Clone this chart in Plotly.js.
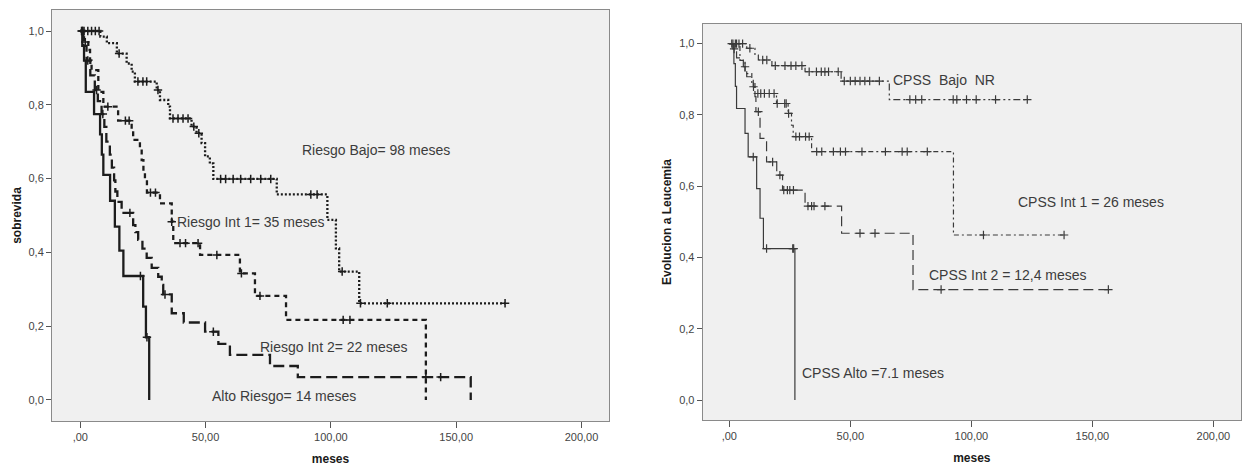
<!DOCTYPE html>
<html>
<head>
<meta charset="utf-8">
<script src="https://cdn.plot.ly/plotly-3.0.1.min.js"></script>
<style>
  html, body { margin: 0; padding: 0; background: #ffffff; }
  #chart { width: 1243px; height: 467px; }
</style>
</head>
<body>
<div id="chart"></div>
<script>
// Axis ticks (Spanish decimal comma)
const xTickVals = [0, 50, 100, 150, 200];
const xTickText = [',00', '50,00', '100,00', '150,00', '200,00'];
const yTickVals = [0, 0.2, 0.4, 0.6, 0.8, 1.0];
const yTickText = ['0,0', '0,2', '0,4', '0,6', '0,8', '1,0'];

// ---- Overall survival by risk group (months / survival) ----
const bajoT = [0, 8, 10.6, 14.6, 18.5, 20.5, 21.8, 30.5, 31.8, 35.1, 35.8, 44.4, 46.4, 48.4, 49.8, 51.7, 53.1, 78.4, 98.6, 102.0, 103.3, 111.3];
const bajoS = [1, 0.985, 0.967, 0.939, 0.912, 0.89, 0.863, 0.84, 0.813, 0.795, 0.763, 0.741, 0.723, 0.696, 0.66, 0.641, 0.599, 0.557, 0.488, 0.411, 0.348, 0.262];
const bajoCens = [1.5, 3, 4.5, 6, 7.5, 15.5, 23, 25, 26.5, 31, 37, 39, 41, 43, 45.3, 47.3, 56, 58, 61, 64, 68, 72, 76, 92, 94.5, 104.5, 111.8, 122.5, 169.5];

const int1T = [0, 1.5, 3.2, 3.9, 4.5, 7.2, 9.2, 15.1, 20.5, 21.1, 23.8, 24.5, 25.2, 25.8, 26.6, 31.8, 36.5, 37.1, 47.8, 63.7, 69.7, 82.1, 137.9];
const int1S = [1, 0.97, 0.949, 0.92, 0.894, 0.835, 0.795, 0.757, 0.73, 0.705, 0.68, 0.65, 0.62, 0.596, 0.562, 0.533, 0.483, 0.425, 0.393, 0.343, 0.282, 0.217, 0];
const int1Cens = [1, 2, 11, 18, 19.5, 28, 30, 36.5, 39.8, 42, 47, 54.5, 64.3, 71.7, 104.9, 107.6];

const int2T = [0, 1.2, 2.5, 4.0, 5.8, 7.0, 8.5, 9.6, 10.4, 11.8, 12.6, 13.5, 14.0, 14.8, 16.5, 21.1, 22.0, 23.1, 24.8, 26.5, 28.5, 31.1, 32.5, 33.1, 36.5, 41.3, 49.8, 55.1, 59.7, 75.7, 86.8, 155.8];
const int2S = [1, 0.96, 0.92, 0.88, 0.84, 0.81, 0.775, 0.74, 0.70, 0.665, 0.63, 0.595, 0.565, 0.537, 0.507, 0.474, 0.455, 0.434, 0.41, 0.385, 0.358, 0.334, 0.312, 0.286, 0.235, 0.21, 0.185, 0.152, 0.122, 0.092, 0.062, 0];
const int2Cens = [0.8, 3, 6.5, 9, 19.8, 33.8, 53.1, 137.9, 143.8];

const altoT = [0, 0.8, 1.5, 2.2, 5.5, 7.9, 8.6, 9.2, 11.9, 13.8, 15.6, 17.2, 25.1, 26.2, 27.5];
const altoS = [1, 0.96, 0.92, 0.835, 0.775, 0.72, 0.665, 0.61, 0.54, 0.47, 0.405, 0.336, 0.253, 0.17, 0];
const altoCens = [0.5, 24, 26.6];

// ---- Progression to leukemia by CPSS group ----
const cBajoT = [0, 7.2, 10.6, 12.0, 17.6, 31.3, 46.2, 66.1];
const cBajoS = [1, 0.987, 0.968, 0.954, 0.938, 0.921, 0.895, 0.843];
const cBajoCens = [1, 2.5, 4, 5.5, 8.5, 13.8, 15.5, 19, 23, 25.5, 27.5, 30, 33, 36, 38, 39.5, 41, 45, 47.5, 50, 52, 54, 56, 58, 62, 74.6, 77, 79.5, 92.5, 94, 98, 102, 110, 123.1];

const cInt1T = [0, 4.4, 6.5, 9.3, 10.6, 19.5, 24.3, 25.7, 26.4, 34.0, 92.6];
const cInt1S = [1, 0.953, 0.916, 0.888, 0.86, 0.832, 0.804, 0.771, 0.739, 0.697, 0.463];
const cInt1Cens = [1.5, 3, 11.8, 13, 14.5, 16.5, 18.5, 19.8, 22.9, 23.5, 24.5, 27.5, 29, 31.5, 33, 36.1, 38.2, 43, 45.9, 48, 54.8, 64.5, 71.4, 73.5, 81.8, 105, 138.3];

const cInt2T = [0, 1.5, 3.0, 5.8, 7.2, 9.9, 10.6, 11.0, 12.7, 15.4, 19.6, 22.0, 31.3, 46.4, 75.9];
const cInt2S = [1, 0.985, 0.96, 0.935, 0.907, 0.879, 0.851, 0.809, 0.734, 0.668, 0.631, 0.589, 0.544, 0.468, 0.31];
const cInt2Cens = [2, 6.5, 10, 12, 17.9, 20.9, 22.5, 24, 25, 26.5, 32.5, 34, 35, 39.5, 54, 60.2, 87.5, 156.6];

const cAltoT = [0, 1.9, 2.5, 3.0, 6.5, 7.8, 11.3, 12.7, 14.1, 27.1];
const cAltoS = [1, 0.944, 0.88, 0.818, 0.748, 0.682, 0.593, 0.51, 0.425, 0];
const cAltoCens = [9.9, 15.4, 26.2, 26.6];

// Survival value of a step curve at time t
function survAt(T, S, t) {
  let v = S[0];
  for (let i = 0; i < T.length; i++) { if (T[i] <= t) v = S[i]; }
  return v;
}

// Step line plus censoring crosses for one group
function kmTraces(T, S, cens, axes, style) {
  const xs = T.slice(), ys = S.slice();
  const last = ys[ys.length - 1];
  const end = Math.max(xs[xs.length - 1], ...cens);
  if (last > 0 && end > xs[xs.length - 1]) { xs.push(end); ys.push(last); }
  const line = {
    x: xs, y: ys, xaxis: axes[0], yaxis: axes[1], type: 'scatter', mode: 'lines',
    line: { shape: 'hv', color: style.color, width: style.width, dash: style.dash },
    hoverinfo: 'skip', showlegend: false
  };
  const marks = {
    x: cens, y: cens.map(t => survAt(T, S, t)), xaxis: axes[0], yaxis: axes[1],
    type: 'scatter', mode: 'markers',
    marker: { symbol: 'cross-thin', size: style.msize, color: style.color,
              line: { color: style.color, width: style.mwidth } },
    hoverinfo: 'skip', showlegend: false
  };
  return [line, marks];
}

const L = ['x', 'y'], R = ['x2', 'y2'];
const dark = '#1c1c1c', mid = '#3a3a3a';
const data = [].concat(
  kmTraces(bajoT, bajoS, bajoCens, L, { color: dark, width: 2.3, dash: '2px,2px', msize: 6, mwidth: 1.5 }),
  kmTraces(int1T, int1S, int1Cens, L, { color: dark, width: 2.3, dash: '5px,4px', msize: 6, mwidth: 1.5 }),
  kmTraces(int2T, int2S, int2Cens, L, { color: dark, width: 2.3, dash: '11px,5px', msize: 6, mwidth: 1.5 }),
  kmTraces(altoT, altoS, altoCens, L, { color: dark, width: 2.3, dash: 'solid', msize: 6, mwidth: 1.5 }),
  kmTraces(cBajoT, cBajoS, cBajoCens, R, { color: mid, width: 1.2, dash: '7px,3px,2px,3px,2px,3px', msize: 6, mwidth: 1.2 }),
  kmTraces(cInt1T, cInt1S, cInt1Cens, R, { color: mid, width: 1.2, dash: '5px,3px,2px,3px', msize: 6, mwidth: 1.2 }),
  kmTraces(cInt2T, cInt2S, cInt2Cens, R, { color: mid, width: 1.2, dash: '10px,5px', msize: 6, mwidth: 1.2 }),
  kmTraces(cAltoT, cAltoS, cAltoCens, R, { color: mid, width: 1.2, dash: 'solid', msize: 6, mwidth: 1.2 })
);

const FONT = 'Liberation Sans, Arial, sans-serif';
const tickFont = { family: FONT, size: 11, color: '#444' };
const titleFont = { family: FONT, size: 12, color: '#1a1a1a', weight: 'bold' };

function xAxis(domain, range) {
  return {
    domain: domain, range: range, tickvals: xTickVals, ticktext: xTickText,
    ticks: 'outside', ticklen: 6, tickcolor: '#555', tickwidth: 1,
    showline: true, linecolor: '#8a8a8a', linewidth: 1, mirror: true,
    showgrid: false, zeroline: false, tickfont: tickFont,
    title: { text: 'meses', font: titleFont, standoff: 12 }
  };
}
function yAxis(domain, range, anchor, title) {
  return {
    domain: domain, range: range, anchor: anchor, tickvals: yTickVals, ticktext: yTickText,
    ticks: 'outside', ticklen: 5, tickcolor: '#555', tickwidth: 1,
    showline: true, linecolor: '#8a8a8a', linewidth: 1, mirror: true,
    showgrid: false, zeroline: false, tickfont: tickFont,
    title: { text: title, font: titleFont, standoff: 4 }
  };
}

const annFont = { family: FONT, size: 14, color: '#3c3c3c' };
function label(text, x, y, axes) {
  return { text: text, x: x, y: y, xref: axes[0], yref: axes[1], xanchor: 'left', yanchor: 'middle',
           showarrow: false, font: annFont };
}

const layout = {
  width: 1243, height: 467,
  margin: { l: 0, r: 0, t: 0, b: 0 },
  paper_bgcolor: '#ffffff', plot_bgcolor: '#f0f0f0',
  showlegend: false,
  xaxis: xAxis([0.0418, 0.4900], [-11.3, 211]),
  yaxis: yAxis([0.0985, 0.9786], [-0.057, 1.057], 'x', 'sobrevida'),
  xaxis2: Object.assign(xAxis([0.5653, 0.9984], [-11.0, 211.4]), { anchor: 'y2' }),
  yaxis2: yAxis([0.1006, 0.9486], [-0.056, 1.055], 'x2', 'Evolucion a Leucemia'),
  annotations: [
    label('Riesgo Bajo= 98 meses', 87.7, 0.677, L),
    label('Riesgo Int 1= 35 meses', 37.8, 0.483, L),
    label('Riesgo Int 2= 22 meses', 71.0, 0.144, L),
    label('Alto Riesgo= 14 meses', 51.8, 0.012, L),
    label('CPSS\u00a0\u00a0Bajo\u00a0\u00a0NR', 66.7, 0.898, R),
    label('CPSS Int 1 = 26 meses', 118.5, 0.556, R),
    label('CPSS Int 2 = 12,4 meses', 81.6, 0.351, R),
    label('CPSS Alto =7.1 meses', 29.2, 0.075, R)
  ]
};
layout.xaxis.anchor = 'y';

Plotly.newPlot('chart', data, layout, { staticPlot: true, displayModeBar: false });
</script>
</body>
</html>
